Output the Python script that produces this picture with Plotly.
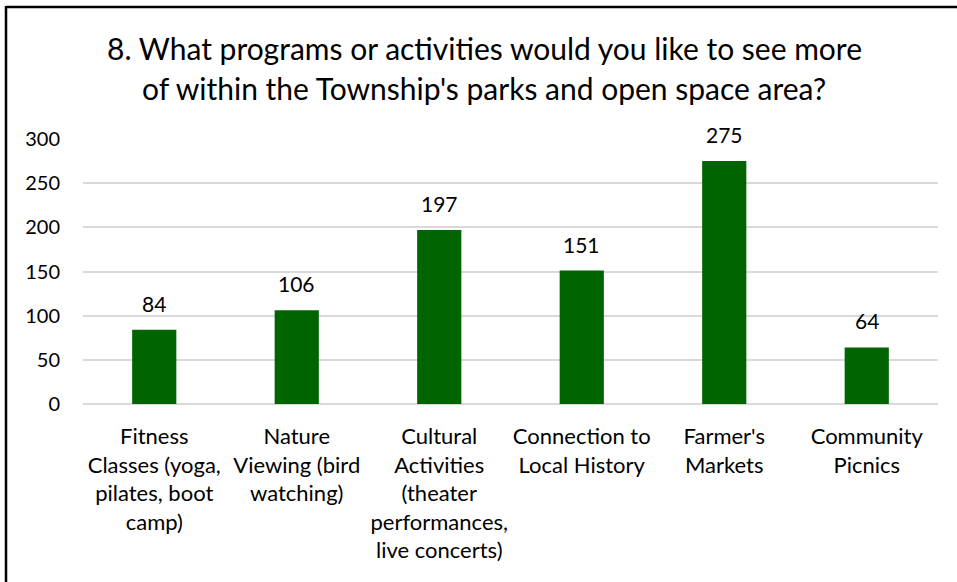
import plotly.graph_objects as go

categories = ["Fitness Classes (yoga, pilates, boot camp)",
              "Nature Viewing (bird watching)",
              "Cultural Activities (theater performances, live concerts)",
              "Connection to Local History",
              "Farmer's Markets",
              "Community Picnics"]
tick_labels = ["Fitness<br>Classes (yoga,<br>pilates, boot<br>camp)",
               "Nature<br>Viewing (bird<br>watching)",
               "Cultural<br>Activities<br>(theater<br>performances,<br>live concerts)",
               "Connection to<br>Local History",
               "Farmer's<br>Markets",
               "Community<br>Picnics"]
values = [84, 106, 197, 151, 275, 64]
y_ticks = [0, 50, 100, 150, 200, 250, 300]
title_lines = ["8. What programs or activities would you like to see more",
               "of within the Township's parks and open space area?"]

W, H = 957, 582
L, R, T, B = 83, 938, 139, 404

FONT = "Lato"

fig = go.Figure(go.Bar(
    x=categories, y=values,
    marker=dict(color="#006400", line=dict(width=0)),
    hoverinfo="x+y",
))

def px2paper_x(px):
    return (px - L) / (R - L)

def px2paper_y(py):
    return (B - py) / (B - T)

annotations = []
for c, v in zip(categories, values):
    annotations.append(dict(
        x=c, y=v, xref="x", yref="y", text=str(v), showarrow=False,
        yanchor="bottom", yshift=12,
        font=dict(family=FONT, size=21, color="#000000"),
    ))
for line, cy in zip(title_lines, [48, 88]):
    annotations.append(dict(
        x=px2paper_x(484), y=px2paper_y(cy), xref="paper", yref="paper",
        text=line, showarrow=False, xanchor="center", yanchor="middle",
        font=dict(family=FONT, size=30, color="#000000"),
    ))

border = dict(color="#000000", width=2.5)
fig.update_layout(
    width=W, height=H,
    margin=dict(l=L, r=W - R, t=T, b=H - B, pad=0, autoexpand=False),
    paper_bgcolor="white", plot_bgcolor="white",
    font=dict(family=FONT, color="#000000"),
    bargap=0.69,
    showlegend=False,
    xaxis=dict(
        tickmode="array", tickvals=categories, ticktext=tick_labels,
        tickfont=dict(family=FONT, size=22, color="#000000"),
        showgrid=False, showline=False, ticks="", zeroline=False,
        ticklabelstandoff=17, automargin=False,
    ),
    yaxis=dict(
        range=[0, 300], tickvals=y_ticks,
        tickfont=dict(family=FONT, size=20, color="#000000"),
        showgrid=True, gridcolor="#d9d9d9", gridwidth=1.5,
        zeroline=True, zerolinecolor="#d9d9d9", zerolinewidth=1.5,
        showline=False, ticks="", ticklabelstandoff=22, automargin=False,
    ),
    annotations=annotations,
    shapes=[
        dict(type="line", xref="paper", yref="paper",
             x0=px2paper_x(6), x1=px2paper_x(W),
             y0=px2paper_y(7), y1=px2paper_y(7), line=border, layer="above"),
        dict(type="line", xref="paper", yref="paper",
             x0=px2paper_x(6), x1=px2paper_x(6),
             y0=px2paper_y(6), y1=px2paper_y(H), line=border, layer="above"),
    ],
)

fig.write_html("out.html",
               config={"displayModeBar": False},
               post_script="document.body.style.margin='0';document.body.style.overflow='hidden';")
